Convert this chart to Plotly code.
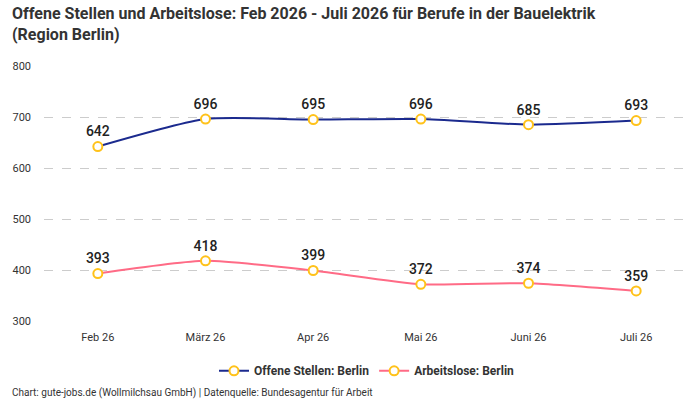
import plotly.graph_objects as go

months = ["Feb 26", "März 26", "Apr 26", "Mai 26", "Juni 26", "Juli 26"]
offene_stellen = [642, 696, 695, 696, 685, 693]
arbeitslose = [393, 418, 399, 372, 374, 359]
y_ticks = [300, 400, 500, 600, 700, 800]

FONT = "Roboto"
fig = go.Figure()

def add_series(name, values, color):
    fig.add_trace(go.Scatter(
        x=months, y=values, name=name, mode="lines+markers+text",
        line=dict(color=color, width=2, shape="spline", smoothing=0.6),
        marker=dict(size=9, color="white", line=dict(color="#FFC21A", width=2)),
        text=[str(v) for v in values], textposition="top center",
        textfont=dict(family=FONT, size=14, color="#222222", weight=500),
        cliponaxis=False,
    ))

add_series("Offene Stellen: Berlin", offene_stellen, "#1B2A8E")
add_series("Arbeitslose: Berlin", arbeitslose, "#FF6B86")

PLOT_H = 255.0
fig.update_layout(
    width=700, height=400,
    margin=dict(l=44, r=10, t=66, b=79, autoexpand=False),
    plot_bgcolor="white", paper_bgcolor="white",
    font=dict(family=FONT, color="#333333"),
    xaxis=dict(range=[-0.5, 5.5], autorange=False, showgrid=False, showline=False, ticks="",
               ticklabelstandoff=8, tickfont=dict(size=11, color="#333333")),
    yaxis=dict(range=[300, 800], autorange=False, tickvals=y_ticks, showgrid=True, gridcolor="#cccccc",
               griddash="dash", zeroline=False, ticks="", ticklabelstandoff=12,
               tickfont=dict(size=11, color="#333333")),
    legend=dict(orientation="h", x=0.5, xanchor="center", yref="container", y=0.073, yanchor="middle",
                font=dict(family=FONT, size=12, color="#333333", weight="bold")),
    showlegend=True,
)
fig.add_annotation(text="<b>Offene Stellen und Arbeitslose: Feb 2026 - Juli 2026 für Berufe in der Bauelektrik</b><br><b>(Region Berlin)</b>",
                   xref="paper", yref="paper", x=-0.052, y=1 + 64 / PLOT_H, xanchor="left", yanchor="top",
                   align="left", showarrow=False,
                   font=dict(family=FONT, size=16, color="#333333"))
fig.add_annotation(text="Chart: gute-jobs.de (Wollmilchsau GmbH) | Datenquelle: Bundesagentur für Arbeit",
                   xref="paper", yref="paper", x=-0.052, y=-(393 - 321) / PLOT_H, xanchor="left", yanchor="middle",
                   showarrow=False, font=dict(family=FONT, size=10, color="#333333"))

fig.write_html("out.html", config={"displayModeBar": False},
               post_script="document.body.style.margin='0';document.body.style.overflow='hidden';")
